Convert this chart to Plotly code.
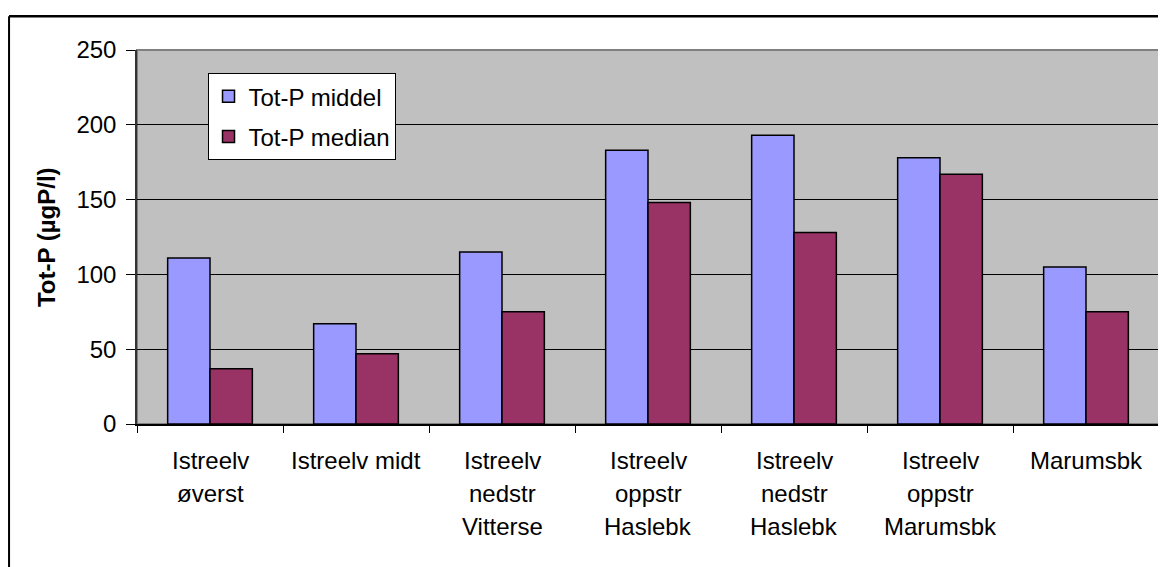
import plotly.graph_objects as go

categories = ["Istreelv<br>øverst", "Istreelv midt", "Istreelv<br>nedstr<br>Vitterse",
              "Istreelv<br>oppstr<br>Haslebk", "Istreelv<br>nedstr<br>Haslebk",
              "Istreelv<br>oppstr<br>Marumsbk", "Marumsbk"]
middel = [111, 67, 115, 183, 193, 178, 105]
median = [37, 47, 75, 148, 128, 167, 75]
series_names = ["Tot-P middel", "Tot-P median"]
y_title = "Tot-P (µgP/l)"

FONT = "Liberation Sans, Arial, sans-serif"
FS = 24
keys = [f"c{i}" for i in range(len(categories))]

fig = go.Figure()
fig.add_trace(go.Bar(x=keys, y=middel, name=series_names[0], legendgroup="a",
                     marker=dict(color="#9999FF", line=dict(color="#000000", width=1.5))))
fig.add_trace(go.Bar(x=keys, y=median, name=series_names[1], legendgroup="b",
                     marker=dict(color="#993366", line=dict(color="#000000", width=1.5))))

# Category labels as multi-line annotations (line spacing like reference)
for k, lab in zip(keys, categories):
    for j, line in enumerate(lab.split("<br>")):
        fig.add_annotation(x=k, xref="x", y=0, yref="paper", text=line, showarrow=False,
                           yanchor="middle", yshift=-36 - 33 * j,
                           font=dict(family=FONT, size=FS, color="#000000"))

# Y axis title
fig.add_annotation(x=-0.089, xref="paper", y=0.5, yref="paper", text=f"<b>{y_title}</b>",
                   textangle=-90, showarrow=False, xanchor="center", yanchor="middle",
                   font=dict(family=FONT, size=FS, color="#000000"))

# plot-area gray border (top/right)
fig.add_shape(type="rect", xref="paper", yref="paper", x0=0, y0=0, x1=1, y1=1,
              line=dict(color="#808080", width=2), layer="below")
# outer chart border (left and top edges; others fall outside the window)
fig.add_shape(type="line", xref="paper", yref="paper", x0=-0.1252, y0=-0.6, x1=-0.1252, y1=1.09,
              line=dict(color="#000000", width=2))
fig.add_shape(type="line", xref="paper", yref="paper", x0=-0.1252, y0=1.09, x1=1.2, y1=1.09,
              line=dict(color="#000000", width=2.5))

fig.update_layout(
    width=1158, height=559,
    margin=dict(l=129, r=7, t=42, b=143, autoexpand=False),
    paper_bgcolor="#FFFFFF", plot_bgcolor="#C0C0C0",
    barmode="group", bargap=0.42, bargroupgap=0,
    font=dict(family=FONT, size=FS, color="#000000"),
    showlegend=True,
    legend=dict(x=0.069, y=0.938, xanchor="left", yanchor="top",
                bgcolor="#FFFFFF", bordercolor="#000000", borderwidth=1,
                font=dict(family=FONT, size=FS, color="#000000"),
                traceorder="grouped", tracegroupgap=6, itemwidth=30),
    xaxis=dict(showticklabels=False, ticks="outside", tickson="boundaries",
               ticklen=7, tickcolor="#000000", tickwidth=1,
               showline=True, linecolor="#000000", linewidth=1.5,
               showgrid=False, zeroline=False, automargin=False),
    yaxis=dict(range=[0, 250], dtick=50, tick0=0, ticks="outside", ticklen=9,
               tickcolor="#000000", showline=True, linecolor="#333333", linewidth=1.5,
               showgrid=True, gridcolor="#000000", gridwidth=1, zeroline=False,
               tickfont=dict(family=FONT, size=FS), ticklabelstandoff=5,
               automargin=False),
)

fig.write_html("out.html")
